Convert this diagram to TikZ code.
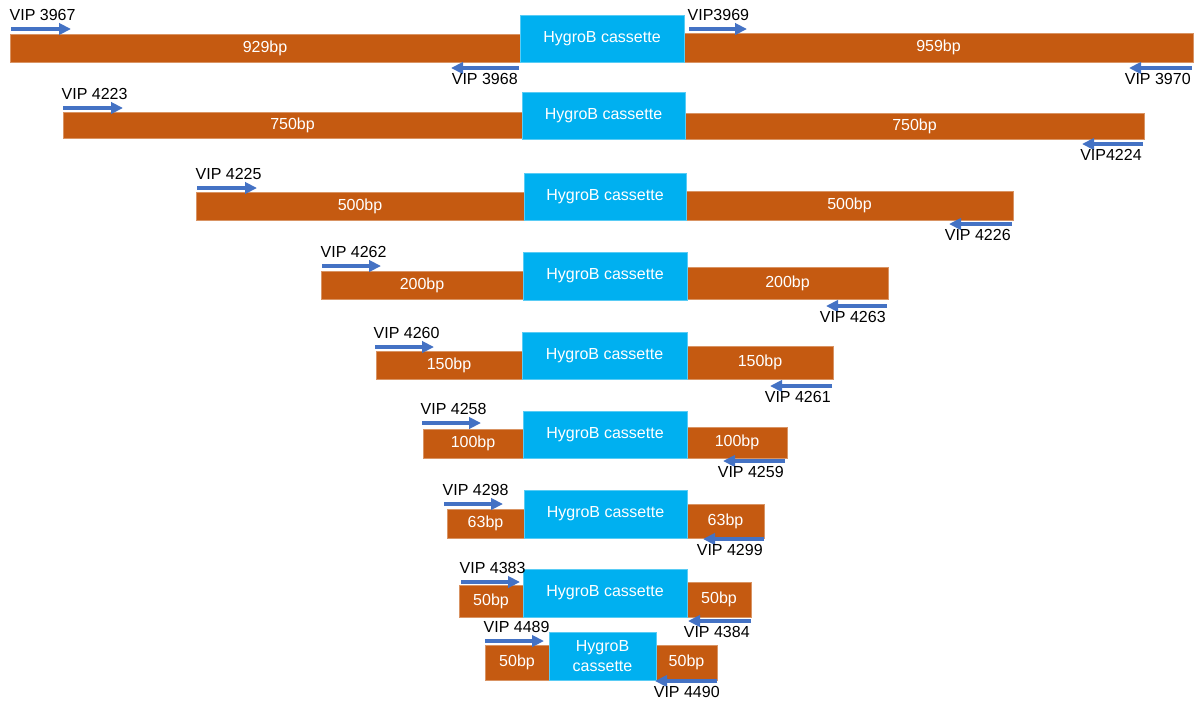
\documentclass[tikz,border=0pt]{standalone}
\usepackage{fontspec}
\setmainfont{Liberation Sans}
\usepackage{tikz}
\usetikzlibrary{arrows.meta,%
                fit}
\definecolor{flankcol}{HTML}{C55A11}
\definecolor{hygrocol}{HTML}{00B0F0}
\definecolor{primercol}{HTML}{4472C4}

\begin{document}
\begin{tikzpicture}[x=0.75pt, y=-0.75pt]
  \tikzstyle{every node} = [font=\fontsize{12}{14.5}\selectfont]
  \tikzstyle{flank} = [fill=flankcol, draw=flankcol!65!white, line width=0.5pt,
                       inner sep=0]
  \tikzstyle{hygro} = [fill=hygrocol, draw=hygrocol!65!white, line width=0.5pt,
                       inner sep=0]
  \tikzstyle{every label} = [text=white, align=center, inner sep=0]
\tikzset{fwd/.style={primercol, line width=3pt, -{Triangle[width=8.5pt, length=9pt]}},
         rev/.style={fwd},
         fwdlbl/.style={text=black, anchor=base west, inner sep=0, xshift=-2.5pt, yshift=6.3pt},
         revlbl/.style={text=black, anchor=base east, inner sep=0, xshift=0.5pt, yshift=-12.7pt}}
\useasboundingbox (0,0) rectangle (1202,707);

% 929 / 959
\node[flank, fit={(10,34) (520,62)}, label=center:929bp] (L1) {};
\node[flank, fit={(684,33) (1193,62)}, label=center:959bp] (R1) {};
\node[hygro, fit={(520,15) (684,62)}, label=center:HygroB cassette] (H1) {};
\draw[fwd] (11,29) node[fwdlbl] (P3967) {VIP 3967} -- ++(60,0);
\draw[rev] (519,68) node[revlbl] (P3968) {VIP 3968} -- ++(-68,0);
\draw[fwd] (689,29) node[fwdlbl] (P3969) {VIP3969} -- ++(58,0);
\draw[rev] (1192,68) node[revlbl] (P3970) {VIP 3970} -- ++(-63,0);

% 750
\node[flank, fit={(63,112) (522,138)}, label=center:750bp] (L2) {};
\node[flank, fit={(685,113) (1144,139)}, label=center:750bp] (R2) {};
\node[hygro, fit={(522,92) (685,139)}, label=center:HygroB cassette] (H2) {};
\draw[fwd] (63,108) node[fwdlbl] (P4223) {VIP 4223} -- ++(60,0);
\draw[rev] (1143,144) node[revlbl] (P4224) {VIP4224} -- ++(-61,0);

% 500
\node[flank, fit={(196,192) (524,220)}, label=center:500bp] (L3) {};
\node[flank, fit={(686,191) (1013,220)}, label=center:500bp] (R3) {};
\node[hygro, fit={(524,173) (686,220)}, label=center:HygroB cassette] (H3) {};
\draw[fwd] (197,188) node[fwdlbl] (P4225) {VIP 4225} -- ++(60,0);
\draw[rev] (1012,224) node[revlbl] (P4226) {VIP 4226} -- ++(-63,0);

% 200
\node[flank, fit={(321,271) (523,299)}, label=center:200bp] (L4) {};
\node[flank, fit={(687,267) (888,299)}, label=center:200bp] (R4) {};
\node[hygro, fit={(523,252) (687,300)}, label=center:HygroB cassette] (H4) {};
\draw[fwd] (322,266) node[fwdlbl] (P4262) {VIP 4262} -- ++(59,0);
\draw[rev] (887,306) node[revlbl] (P4263) {VIP 4263} -- ++(-61,0);

% 150
\node[flank, fit={(376,351) (522,379)}, label=center:150bp] (L5) {};
\node[flank, fit={(687,346) (833,379)}, label=center:150bp] (R5) {};
\node[hygro, fit={(522,332) (687,379)}, label=center:HygroB cassette] (H5) {};
\draw[fwd] (375,347) node[fwdlbl] (P4260) {VIP 4260} -- ++(59,0);
\draw[rev] (832,386) node[revlbl] (P4261) {VIP 4261} -- ++(-62,0);

% 100
\node[flank, fit={(423,429) (523,458)}, label=center:100bp] (L6) {};
\node[flank, fit={(687,427) (787,458)}, label=center:100bp] (R6) {};
\node[hygro, fit={(523,411) (687,458)}, label=center:HygroB cassette] (H6) {};
\draw[fwd] (422,423) node[fwdlbl] (P4258) {VIP 4258} -- ++(59,0);
\draw[rev] (785,461) node[revlbl] (P4259) {VIP 4259} -- ++(-62,0);

% 63
\node[flank, fit={(447,509) (524,538)}, label=center:63bp] (L7) {};
\node[flank, fit={(687,504) (764,538)}, label=center:63bp] (R7) {};
\node[hygro, fit={(524,490) (687,538)}, label=center:HygroB cassette] (H7) {};
\draw[fwd] (444,504) node[fwdlbl] (P4298) {VIP 4298} -- ++(59,0);
\draw[rev] (764,539) node[revlbl] (P4299) {VIP 4299} -- ++(-61,0);

% 50
\node[flank, fit={(459,585) (523,617)}, label=center:50bp] (L8) {};
\node[flank, fit={(687,582) (751,617)}, label=center:50bp] (R8) {};
\node[hygro, fit={(523,569) (687,617)}, label=center:HygroB cassette] (H8) {};
\draw[fwd] (461,582) node[fwdlbl] (P4383) {VIP 4383} -- ++(59,0);
\draw[rev] (751,621) node[revlbl] (P4384) {VIP 4384} -- ++(-63,0);

% 50, short cassette
\node[flank, fit={(485,645) (549,680)}, label=center:50bp] (L9) {};
\node[flank, fit={(656,645) (717,680)}, label=center:50bp] (R9) {};
\node[hygro, fit={(549,632) (656,680)}, label={center:HygroB\\cassette}] (H9) {};
\draw[fwd] (485,641) node[fwdlbl] (P4489) {VIP 4489} -- ++(59,0);
\draw[rev] (717,681) node[revlbl, xshift=3pt] (P4490) {VIP 4490} -- ++(-62,0);

\end{tikzpicture}
\end{document}
